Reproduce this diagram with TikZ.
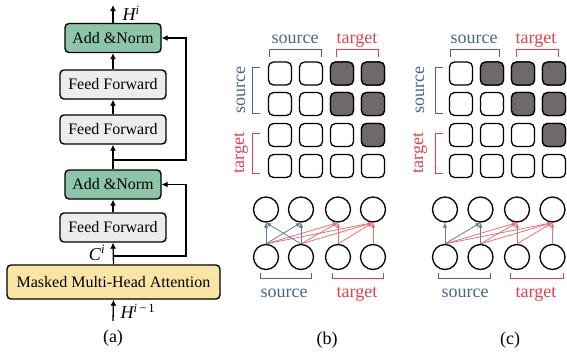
\documentclass[tikz,border=0pt]{standalone}
\usepackage{fontspec}
\setmainfont{Liberation Serif}
\newfontfamily\lblfont{Liberation Serif}
\usepackage{xcolor}
\usetikzlibrary{arrows.meta, positioning}

\definecolor{addgreen}{HTML}{8CC5A9}
\definecolor{ffgray}{HTML}{ECECEC}
\definecolor{attyellow}{HTML}{FBE5A5}
\definecolor{cellgray}{HTML}{6E6A6A}
\definecolor{srcblue}{HTML}{4A6584}
\definecolor{tgtred}{HTML}{E0414C}

\begin{document}
\begin{tikzpicture}[
    x=1pt, y=-1pt,
    > = {Latex[length=6pt, width=6pt]},
    blk/.style={draw, rounded corners=4pt, line width=1.4pt, minimum height=29pt, inner sep=0pt, font=\lblfont\fontsize{16}{18}\selectfont},
    addbox/.style={blk, fill=addgreen, minimum width=96pt},
    ffbox/.style={blk, fill=ffgray, minimum width=106pt},
    attbox/.style={blk, fill=attyellow, minimum width=213pt, minimum height=34pt},
    flow/.style={->, line width=1.3pt},
    cell/.style={draw, rounded corners=5pt, line width=1.3pt, minimum size=23pt, inner sep=0pt},
    tok/.style={circle, draw, line width=1.3pt, minimum size=25pt, inner sep=0pt},
    lbl/.style={font=\lblfont\fontsize{18}{20}\selectfont},
    mlbl/.style={font=\lblfont\itshape\fontsize{18}{20}\selectfont},
    srcarr/.style={-{Latex[length=5pt, width=4.5pt]}, srcblue!85, line width=0.8pt},
    tgtarr/.style={-{Latex[length=5pt, width=4.5pt]}, tgtred!75, line width=0.8pt},
    brk/.style={line width=1pt}
]
    \useasboundingbox (0,0) rectangle (567,356);

    % 1. Decoder layer (a)
    \node[addbox] (an1) at (113,38) {Add \&Norm};
    \node[ffbox] (ff1) at (113,84.5) {Feed Forward};
    \node[ffbox] (ff2) at (113,129.5) {Feed Forward};
    \node[addbox] (an2) at (113,184.5) {Add \&Norm};
    \node[ffbox] (ff3) at (113,227.5) {Feed Forward};
    \node[attbox] (att) at (113.5,282) {Masked Multi-Head Attention};

    \coordinate (out) at (113,5);
    \coordinate (in) at (113,321);
    \coordinate (j1) at (113,160);
    \coordinate (j2) at (113,256);

    \draw[flow] (an1.north) -- (out);
    \draw[flow] (ff1.north) -- (an1.south);
    \draw[flow] (ff2.north) -- (ff1.south);
    \draw[flow] (an2.north) -- (ff2.south);
    \draw[flow] (ff3.north) -- (an2.south);
    \draw[flow] (att.north) -- (ff3.south);
    \draw[flow] (in) -- (att.south);
    % residual paths
    \draw[line width=1.1pt, -{Latex[length=6pt, width=6pt]}] (j1) -- (186,160) |- (an1.east);
    \draw[line width=1.1pt, -{Latex[length=6pt, width=6pt]}] (j2) -- (186,256) |- (an2.east);

    \node[mlbl] (hi) at (131,13) {H\textsuperscript{i}};
    \node[mlbl] (ci) at (97,253) {C\textsuperscript{i}};
    \node[mlbl] (him) at (138,311) {H\textsuperscript{i\,\upshape −\,1}};
    \node[lbl] (capa) at (113,338) {(a)};

    % 2. Attention masks (b) and (c)
    \foreach \p/\dx/\masks in {b/0/{1/3,1/4,2/3,2/4,3/4}, c/181/{1/2,1/3,1/4,2/3,2/4,3/4}} {
        \foreach \r/\y in {1/73.5,2/104,3/135,4/166} {
            \foreach \c/\x in {1/280,2/311,3/342,4/373} {
                \node[cell] (\p m\r\c) at (\x+\dx,\y) {};
            }
        }
        \foreach \r/\c in \masks {
            \node[cell, fill=cellgray] at (\p m\r\c) {};
        }
    }

    % 3. Mask labels and brackets
    \foreach \p/\dx in {b/0, c/179} {
        \node[lbl, text=srcblue, anchor=base] (\p srctop) at (295+\dx,43) {source};
        \node[lbl, text=tgtred, anchor=base] (\p tgttop) at (357+\dx,43) {target};
        \node[lbl, text=srcblue, rotate=90] (\p srcside) at (241+\dx,90) {source};
        \node[lbl, text=tgtred, rotate=90] (\p tgtside) at (241+\dx,153) {target};
    }
    \draw[brk, srcblue] (269,57) -- (269,49) -- (321,49) -- (321,57);
    \draw[brk, tgtred] (336,57) -- (336,49) -- (378,49) -- (378,57);
    \draw[brk, srcblue] (260,67) -- (252,67) -- (252,113) -- (260,113);
    \draw[brk, tgtred] (260,133) -- (252,133) -- (252,173) -- (260,173);
    \draw[brk, srcblue] (450,57) -- (450,49) -- (499,49) -- (499,57);
    \draw[brk, tgtred] (516,57) -- (516,49) -- (558,49) -- (558,57);
    \draw[brk, srcblue] (443,67) -- (435,67) -- (435,113) -- (443,113);
    \draw[brk, tgtred] (443,133) -- (435,133) -- (435,173) -- (443,173);

    % 4. Token graphs
    \foreach \p/\xa/\xb/\xc/\xd in {b/266/301/338/373, c/445/480.5/517/552.5} {
        \foreach \i/\x in {1/\xa,2/\xb,3/\xc,4/\xd} {
            \node[tok] (\p t\i) at (\x,209.5) {};
            \node[tok] (\p s\i) at (\x,257) {};
        }
    }
    \foreach \s/\t in {1/3,1/4,2/3,2/4,3/3,3/4,4/4} {
        \draw[tgtarr] (bs\s.north) -- (bt\t.south);
        \draw[tgtarr] (cs\s.north) -- (ct\t.south);
    }
    \foreach \s/\t in {1/1,1/2,2/1,2/2} {
        \draw[srcarr] (bs\s.north) -- (bt\t.south);
    }
    \foreach \s/\t in {1/1,1/2,2/2} {
        \draw[srcarr] (cs\s.north) -- (ct\t.south);
    }

    \draw[brk, srcblue] (260,273) -- (260,278) -- (311,278) -- (311,273);
    \draw[brk, tgtred] (332,273) -- (332,278) -- (383,278) -- (383,273);
    \draw[brk, srcblue] (438,273) -- (438,278) -- (490,278) -- (490,273);
    \draw[brk, tgtred] (510,273) -- (510,278) -- (563,278) -- (563,273);
    \node[lbl, text=srcblue, anchor=base] (bsrcbot) at (284,297) {source};
    \node[lbl, text=tgtred, anchor=base] (btgtbot) at (357,297) {target};
    \node[lbl, text=srcblue, anchor=base] (csrcbot) at (465,297) {source};
    \node[lbl, text=tgtred, anchor=base] (ctgtbot) at (536,297) {target};

    \node[lbl] (capb) at (327,340) {(b)};
    \node[lbl] (capc) at (510,340) {(c)};

\end{tikzpicture}
\end{document}
